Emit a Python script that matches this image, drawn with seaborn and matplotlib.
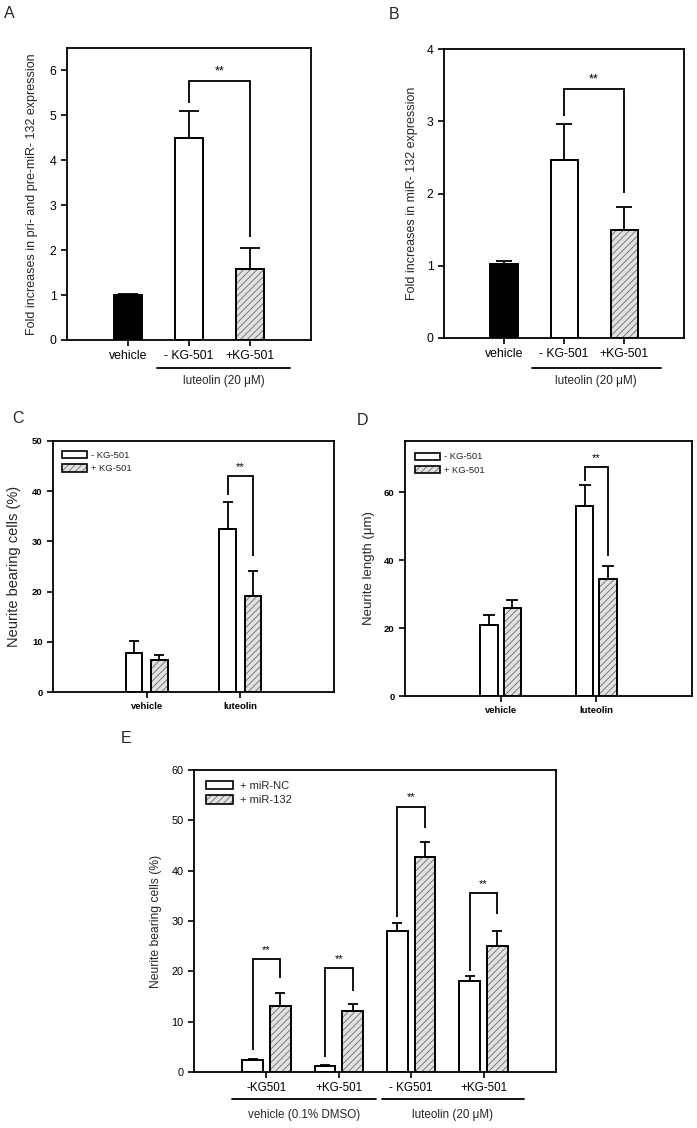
import numpy as np
import pandas as pd
import matplotlib
matplotlib.use("Agg")
import matplotlib.pyplot as plt
from matplotlib.colors import to_rgba
from matplotlib.patches import Patch
import seaborn as sns

sns.set_theme(style="white")
plt.rcParams["font.family"] = ["Liberation Sans", "DejaVu Sans"]
plt.rcParams["hatch.linewidth"] = 0.7

# ---------------- data ----------------
a_cats = ["vehicle", "- KG-501", "+KG-501"]
a_vals = [1.00, 4.50, 1.58]
a_errs = [0.03, 0.60, 0.47]
a_brk = (5.76, 5.27, 2.29)   # top, left leg end, right leg end

b_cats = ["vehicle", "- KG-501", "+KG-501"]
b_vals = [1.03, 2.46, 1.50]
b_errs = [0.03, 0.50, 0.31]
b_brk = (3.44, 3.07, 2.01)

c_groups = ["vehicle", "luteolin"]
c_series = ["- KG-501", "+ KG-501"]
c_minus = [7.8, 32.4]
c_minus_err = [2.3, 5.4]
c_plus = [6.3, 19.1]
c_plus_err = [1.0, 5.1]
c_brk = (43.0, 39.3, 27.1)

d_groups = ["vehicle", "luteolin"]
d_series = ["- KG-501", "+ KG-501"]
d_minus = [20.9, 55.8]
d_minus_err = [2.9, 6.2]
d_plus = [25.8, 34.3]
d_plus_err = [2.4, 3.8]
d_brk = (67.3, 63.3, 41.3)

e_group_ids = ["veh -KG501", "veh +KG-501", "lut -KG501", "lut +KG-501"]
e_tick_labels = ["-KG501", "+KG-501", "- KG501", "+KG-501"]
e_series = ["+ miR-NC", "+ miR-132"]
e_nc = [2.3, 1.26, 28.0, 18.0]
e_nc_err = [0.3, 0.1, 1.6, 1.0]
e_132 = [13.2, 12.1, 42.8, 25.1]
e_132_err = [2.5, 1.5, 2.8, 2.9]
e_brk_top = [22.5, 20.6, 52.7, 35.5]
e_brk_left = [4.4, 3.0, 30.8, 20.1]
e_brk_right = [18.6, 16.1, 48.4, 31.4]

FILL_H = "#e2e2e2"
HATCH_C = "#7a7a7a"
HATCH = "/////"
LW = 1.4

W, H = 697, 1128
fig = plt.figure(figsize=(W / 100, H / 100), dpi=100)


def px_axes(l, t, r, b):
    return fig.add_axes([l / W, 1 - b / H, (r - l) / W, (b - t) / H])


def set_hcolor(p):
    if hasattr(p, "set_hatchcolor"):
        p.set_hatchcolor(HATCH_C)
    else:
        p._hatch_color = to_rgba(HATCH_C)


def hatch_bar(p):
    p.set_hatch(HATCH)
    p.set_facecolor(FILL_H)
    p.set_edgecolor("black")
    set_hcolor(p)


def style_axes(ax, tick_fs, bold=False):
    for s in ax.spines.values():
        s.set_visible(True)
        s.set_color("black")
        s.set_linewidth(1.3)
    ax.tick_params(axis="both", which="both", direction="out", length=4.5, width=1.2,
                   colors="black", bottom=True, left=True, top=False, right=False,
                   labelsize=tick_fs, pad=3)
    ax.set_xlabel("")
    if bold:
        for lab in ax.get_xticklabels() + ax.get_yticklabels():
            lab.set_fontweight("bold")


def err(ax, bars, errs, capsize):
    xs = [b.get_x() + b.get_width() / 2 for b in bars]
    ys = [b.get_height() for b in bars]
    ax.errorbar(xs, ys, yerr=[np.zeros(len(errs)), errs], fmt="none", ecolor="black",
                elinewidth=1.3, capsize=capsize, capthick=1.3, zorder=1)


def bracket(ax, b1, b2, top, yl, yr, fs=9):
    x1 = b1.get_x() + b1.get_width() / 2
    x2 = b2.get_x() + b2.get_width() / 2
    ax.plot([x1, x1, x2, x2], [yl, top, top, yr], color="black", lw=1.3,
            solid_capstyle="butt", solid_joinstyle="miter", zorder=3)
    ax.annotate("**", xy=((x1 + x2) / 2, top), xytext=(0, 3), textcoords="offset points",
                ha="center", va="bottom", fontsize=fs, color="black")


def under_line(ax, x0, x1, yline, ytext, text, fs):
    tr = ax.get_xaxis_transform()
    ax.plot([x0, x1], [yline, yline], color="black", lw=1.3, transform=tr, clip_on=False)
    ax.text((x0 + x1) / 2, ytext, text, transform=tr, ha="center", va="center", fontsize=fs)


# ---------------- Panel A ----------------
axA = px_axes(67, 48, 311, 340)
dfA = pd.DataFrame({"cond": a_cats, "val": a_vals})
sns.barplot(data=dfA, x="cond", y="val", hue="cond", order=a_cats, hue_order=a_cats,
            palette=["black", "white", FILL_H], width=0.45, errorbar=None, legend=False,
            edgecolor="black", linewidth=LW, ax=axA)
barsA = [c[0] for c in axA.containers]
hatch_bar(barsA[2])
err(axA, barsA, a_errs, 7)
bracket(axA, barsA[1], barsA[2], *a_brk)
axA.set_xlim(-1, 3)
axA.set_ylim(0, 6.5)
axA.set_yticks(range(0, 7))
style_axes(axA, 8.8)
axA.set_ylabel("Fold increases in pri- and pre-miR- 132 expression", fontsize=9)
axA.yaxis.set_label_coords(-0.12, 0.5)
under_line(axA, 0.48, 2.66, -0.096, -0.142, "luteolin (20 \u03bcM)", 8.5)

# ---------------- Panel B ----------------
axB = px_axes(444, 49, 684, 338)
dfB = pd.DataFrame({"cond": b_cats, "val": b_vals})
sns.barplot(data=dfB, x="cond", y="val", hue="cond", order=b_cats, hue_order=b_cats,
            palette=["black", "white", FILL_H], width=0.45, errorbar=None, legend=False,
            edgecolor="black", linewidth=LW, ax=axB)
barsB = [c[0] for c in axB.containers]
hatch_bar(barsB[2])
err(axB, barsB, b_errs, 6)
bracket(axB, barsB[1], barsB[2], *b_brk)
axB.set_xlim(-1, 3)
axB.set_ylim(0, 4)
axB.set_yticks(range(0, 5))
style_axes(axB, 8.8)
axB.set_ylabel("Fold increases in miR- 132 expression", fontsize=9)
axB.yaxis.set_label_coords(-0.108, 0.5)
under_line(axB, 0.46, 2.61, -0.104, -0.15, "luteolin (20 \u03bcM)", 8.5)


def grouped(ax, groups, series, v1, v2, width, gap):
    df = pd.DataFrame({
        "group": list(groups) * 2,
        "series": [series[0]] * len(groups) + [series[1]] * len(groups),
        "val": list(v1) + list(v2),
    })
    sns.barplot(data=df, x="group", y="val", hue="series", order=groups, hue_order=series,
                palette=["white", FILL_H], width=width, gap=gap, dodge=True, errorbar=None,
                legend=False, edgecolor="black", linewidth=LW, ax=ax)
    b1 = list(ax.containers[0])
    b2 = list(ax.containers[1])
    for p in b2:
        hatch_bar(p)
    return b1, b2


def legend(ax, labels, fs, xy, hl, hh, tp, ls):
    handles = [Patch(facecolor="white", edgecolor="black", linewidth=1.2),
               Patch(facecolor=FILL_H, edgecolor="black", linewidth=1.2, hatch=HATCH)]
    leg = ax.legend(handles, labels, loc="upper left", bbox_to_anchor=xy, frameon=False,
                    fontsize=fs, handlelength=hl, handleheight=hh, handletextpad=tp,
                    labelspacing=ls, borderpad=0, borderaxespad=0)
    for h in leg.legend_handles:
        if h.get_hatch():
            set_hcolor(h)


# ---------------- Panel C ----------------
axC = px_axes(53, 441, 334, 692)
c1, c2 = grouped(axC, c_groups, c_series, c_minus, c_plus, 0.54, 0.33)
err(axC, c1, c_minus_err, 3.5)
err(axC, c2, c_plus_err, 3.5)
bracket(axC, c1[1], c2[1], *c_brk, fs=8)
axC.set_xlim(-1, 2)
axC.set_ylim(0, 50)
axC.set_yticks(range(0, 51, 10))
style_axes(axC, 6.8, bold=True)
axC.set_ylabel("Neurite bearing cells (%)", fontsize=10.5)
axC.yaxis.set_label_coords(-0.114, 0.5)
legend(axC, c_series, 6.8, (0.032, 0.96), 2.6, 0.8, 0.45, 0.45)

# ---------------- Panel D ----------------
axD = px_axes(405, 441, 692, 696)
d1, d2 = grouped(axD, d_groups, d_series, d_minus, d_plus, 0.49, 0.265)
err(axD, d1, d_minus_err, 4.5)
err(axD, d2, d_plus_err, 4.5)
bracket(axD, d1[1], d2[1], *d_brk, fs=8)
axD.set_xlim(-1, 2)
axD.set_ylim(0, 75)
axD.set_yticks([0, 20, 40, 60])
style_axes(axD, 6.8, bold=True)
axD.set_ylabel("Neurite length (\u03bcm)", fontsize=9.5)
axD.yaxis.set_label_coords(-0.105, 0.5)
legend(axD, d_series, 6.8, (0.035, 0.955), 2.6, 0.8, 0.45, 0.45)

# ---------------- Panel E ----------------
axE = px_axes(194, 770, 556, 1072)
e1, e2 = grouped(axE, e_group_ids, e_series, e_nc, e_132, 0.76, 0.24)
err(axE, e1, e_nc_err, 3.6)
err(axE, e2, e_132_err, 3.6)
for i in range(len(e_group_ids)):
    bracket(axE, e1[i], e2[i], e_brk_top[i], e_brk_left[i], e_brk_right[i], fs=8)
axE.set_xlim(-1, 4)
axE.set_ylim(0, 60)
axE.set_yticks(range(0, 61, 10))
axE.set_xticks(range(len(e_group_ids)))
axE.set_xticklabels(e_tick_labels)
style_axes(axE, 7.8)
axE.tick_params(axis="x", labelsize=8.4)
axE.set_ylabel("Neurite bearing cells (%)", fontsize=8.7)
axE.yaxis.set_label_coords(-0.088, 0.5)
legend(axE, e_series, 8.0, (0.033, 0.965), 2.4, 0.8, 0.7, 0.4)
under_line(axE, -0.47, 1.52, -0.089, -0.143, "vehicle (0.1% DMSO)", 8.4)
under_line(axE, 1.59, 3.56, -0.089, -0.143, "luteolin (20 \u03bcM)", 8.4)

# ---------------- panel letters ----------------
for letter, x, y in [("A", 4, 6), ("B", 389, 7), ("C", 12, 411), ("D", 357, 413), ("E", 121, 731)]:
    fig.text(x / W, 1 - y / H, letter, fontsize=11.5, ha="left", va="top")

fig.savefig("out.png", dpi=100, facecolor="white")
